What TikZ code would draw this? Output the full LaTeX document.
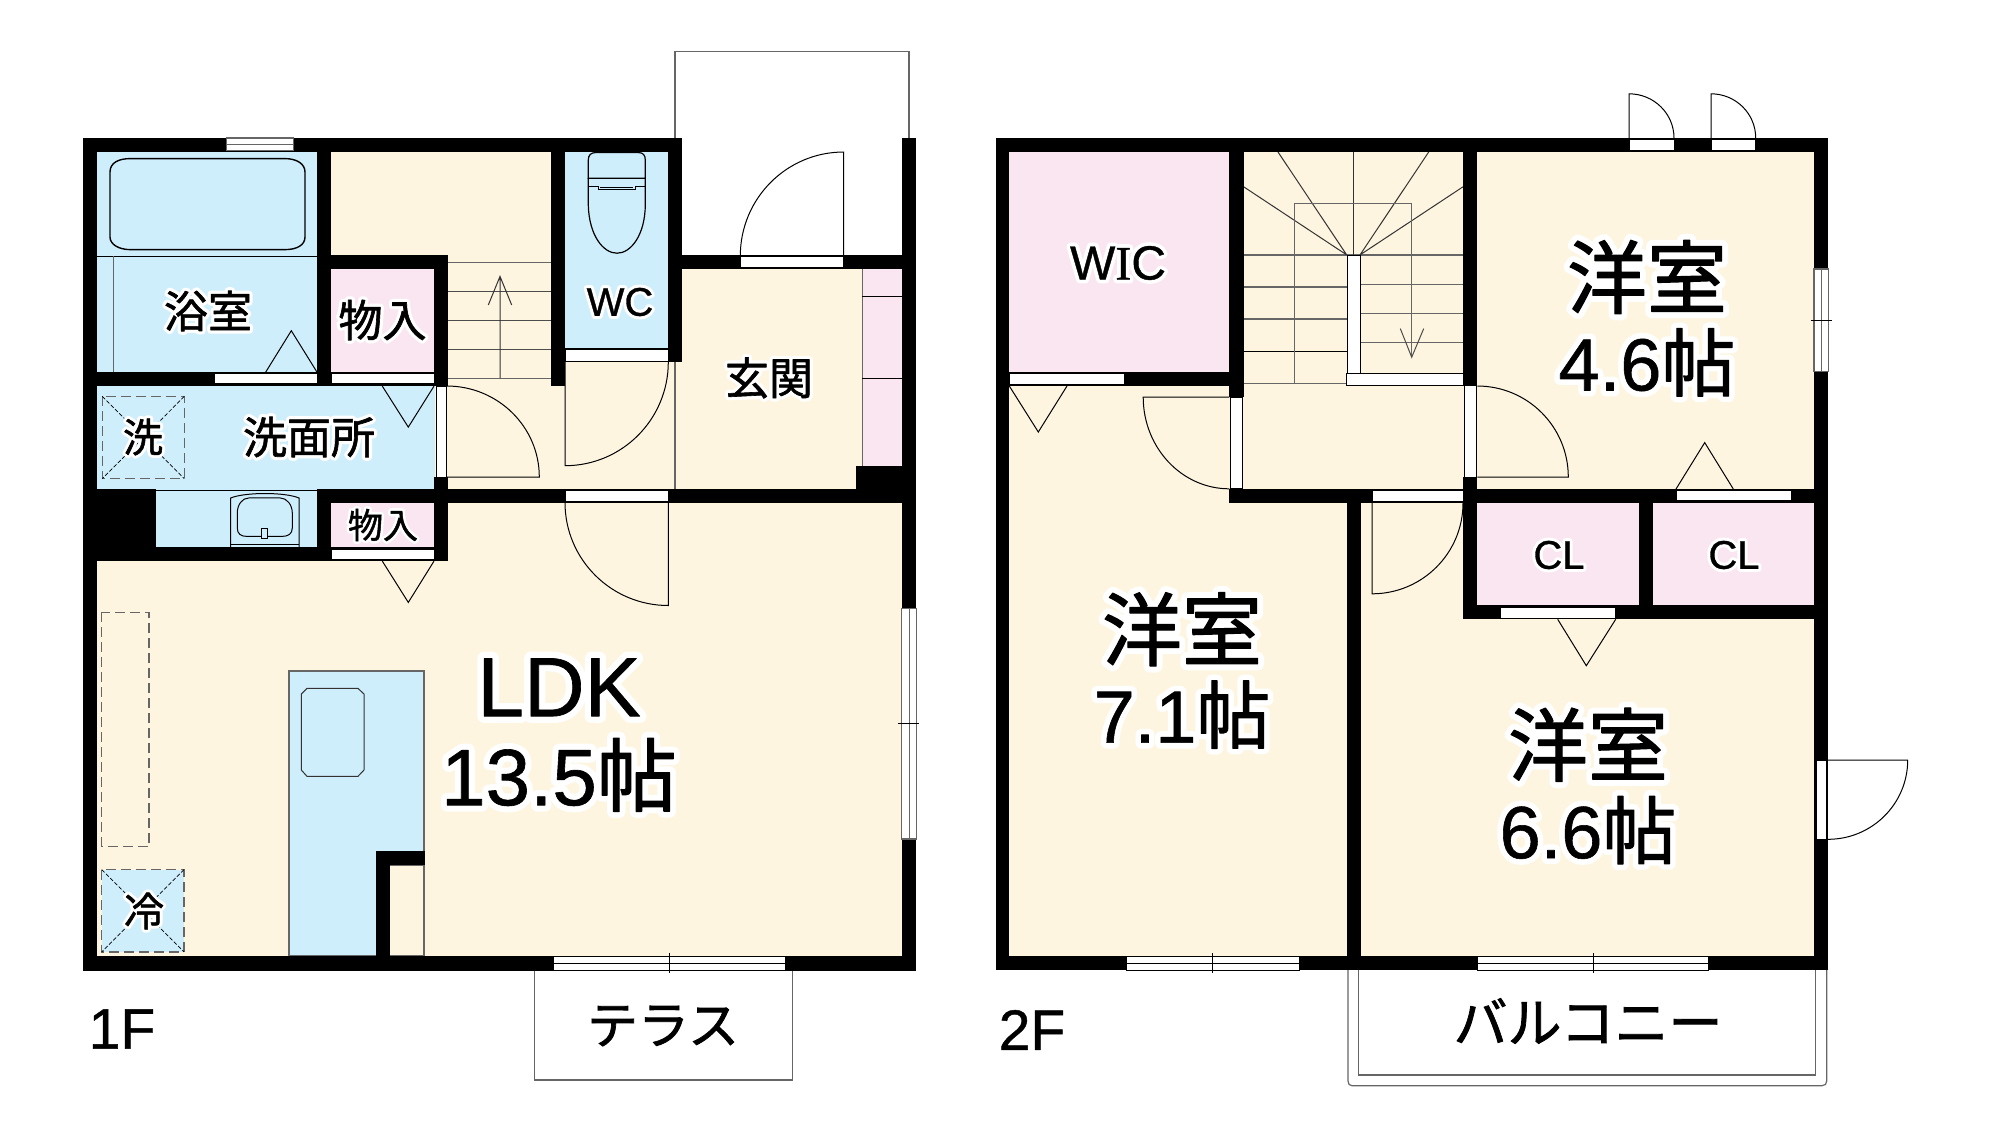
\documentclass[tikz,border=0pt]{standalone}
\usepackage{fontspec}
\usetikzlibrary{calc}
\setmainfont{Liberation Sans}
\newfontfamily\jpn[FakeBold=1.4]{Noto Sans CJK JP}
\newfontfamily\jpnh[FakeBold=16]{Noto Sans CJK JP}
\newfontfamily\latn[FakeBold=0.8]{Liberation Sans}
\newfontfamily\lath[FakeBold=16]{Liberation Sans}
\newfontfamily\serfn[FakeBold=0.8]{Liberation Serif}
\newfontfamily\serfh[FakeBold=16]{Liberation Serif}
\newif\ifhalo
\newcommand\J[1]{{\ifhalo\jpnh\else\jpn\fi #1}}
\newcommand\La[1]{{\ifhalo\lath\else\latn\fi #1}}
\newcommand\Sr[1]{{\ifhalo\serfh\else\serfn\fi #1}}
\newcommand\halo[1]{\leavevmode\special{pdf:code 1 j 1 J}\rlap{\color{white}\halotrue #1}#1}
\newcommand\secondline{\fontsize{37pt}{38.5pt}\selectfont}
\definecolor{cream}{HTML}{FEF5E1}
\definecolor{bluef}{HTML}{CFEEFC}
\definecolor{pinkf}{HTML}{FAE6F0}
\definecolor{lineg}{HTML}{666666}
\tikzset{
  thinl/.style={draw=black,line width=0.5pt},
  grayl/.style={draw=lineg,line width=0.6pt},
  strip/.style={fill=white,draw=black,line width=0.4pt},
  winstrip/.style={fill=white,draw=lineg,line width=0.6pt},
  dashl/.style={draw=lineg,line width=0.7pt,dash pattern=on 5pt off 2.5pt},
  diagl/.style={draw=black,line width=0.35pt,dash pattern=on 2pt off 1pt},
  lab/.style={inner sep=0pt,outer sep=0pt,align=center,text=black},
  lab22/.style={lab,font=\fontsize{22pt}{24pt}\selectfont},
  lab20/.style={lab,font=\fontsize{20pt}{22pt}\selectfont},
  lab17/.style={lab,font=\fontsize{17.5pt}{19pt}\selectfont},
  big/.style={lab,font=\fontsize{40pt}{41.5pt}\selectfont},
  bigger/.style={lab,font=\fontsize{42pt}{44.5pt}\selectfont},
}
\newcommand\Wl[4]{\fill[black] (#1,#2) rectangle (#3,#4);}
\newcommand\Rm[5]{\fill[#1] (#2,#3) rectangle (#4,#5);}
\newcommand\Qd[6]{\draw[thinl] (#1,#2) -- (#3,#4) .. controls ($(#3,#4)+0.5523*(#5,#6)-0.5523*(#1,#2)$) and ($(#5,#6)+0.5523*(#3,#4)-0.5523*(#1,#2)$) .. (#5,#6);}
\begin{document}
\begin{tikzpicture}[x=0.5pt,y=-0.5pt]
\useasboundingbox (0,0) rectangle (1999,1132);
\fill[white] (0,0) rectangle (1999,1132);
% ---------- 1F floors
\Rm{cream}{97.3}{503}{902.3}{956}
\Rm{cream}{331}{152}{668}{489}
\Rm{cream}{668}{268}{903}{489}
\Rm{bluef}{97.3}{152}{317}{373}
\Rm{bluef}{97.3}{386}{434.5}{489}
\Rm{bluef}{156}{489}{317}{547}
\Rm{bluef}{565}{152}{668.3}{348}
\Rm{pinkf}{331.3}{268}{434.3}{373}
\Rm{pinkf}{331.3}{502}{434.3}{548}
\Rm{pinkf}{862.3}{268}{902.3}{466}
% porch and terrace
\draw[grayl] (675,138) -- (675,51.4) -- (909,51.4) -- (909,138);
\draw[grayl] (534.7,970) -- (534.7,1080) -- (792.3,1080) -- (792.3,970);
% kitchen
\draw[grayl,fill=bluef] (289,956) -- (289,670.9) -- (424,670.9) -- (424,956) -- cycle;
\draw[grayl,fill=cream] (389.7,865) rectangle (424,956);
\draw[draw=black!80,line width=0.5pt] (307,688.4) -- (358,688.4) -- (364,694) -- (364,770) -- (358,776.3) -- (307,776.3) -- (301.3,770) -- (301.3,694) -- cycle;
\draw[dashl] (101.7,612.3) rectangle (149,846.5);
\draw[dashl,fill=bluef] (101.7,869.6) rectangle (184,951.9);
\draw[diagl] (101.7,869.6) -- (184,951.9) (184,869.6) -- (101.7,951.9);
% washer
\draw[dashl] (102.3,396.4) rectangle (184.3,478.6);
\draw[diagl] (102.3,396.4) -- (184.3,478.6) (184.3,396.4) -- (102.3,478.6);
% genkan lines
\draw[grayl] (675,362) -- (675,489);
\draw[grayl] (862.3,268) -- (862.3,466);
\draw[thinl] (862.3,296.8) -- (902.3,296.8) (862.3,378.6) -- (902.3,378.6);
% bath
\draw[thinl,line width=0.7pt] (110,172) .. controls (110,162) and (120,158.6) .. (130,158.6) -- (285,158.6) .. controls (297,158.6) and (305,164) .. (305,172) -- (305,237) .. controls (305,245) and (297,249.6) .. (285,249.6) -- (130,249.6) .. controls (120,249.6) and (110,245) .. (110,237) -- cycle;
\draw[thinl] (97.3,256) -- (317,256);
\draw[grayl] (113.7,256) -- (113.7,372);
\draw[thinl] (265.7,372.1) -- (291.3,330.7) -- (317,372.1);
\draw[thinl] (382.3,386.1) -- (408.3,427.1) -- (434,386.1);
\draw[thinl] (382.3,561.1) -- (408.3,602.4) -- (434,561.1);
% basin
\draw[thinl] (156,490) -- (317,490);
\draw[thinl] (230.7,546.8) -- (230.7,498) .. controls (245,492) and (285,492) .. (299,498) -- (299,546.8);
\draw[thinl] (230.7,544.3) -- (299,544.3);
\draw[thinl] (249,497.9) -- (280,497.9) .. controls (287,497.9) and (292.3,505) .. (292.3,513) -- (292.3,528) .. controls (292.3,534) and (288,536.4) .. (282,536.4) -- (247,536.4) .. controls (241,536.4) and (237.3,534) .. (237.3,528) -- (237.3,513) .. controls (237.3,505) and (242,497.9) .. (249,497.9) -- cycle;
\draw[thinl,fill=bluef] (261.7,528.2) rectangle (267.3,538.9);
% toilet
\draw[thinl,line width=0.6pt] (588.3,178.2) -- (588.3,160) .. controls (588.3,155) and (591,152.5) .. (596,152.5) -- (638,152.5) .. controls (643,152.5) and (645.3,155) .. (645.3,160) -- (645.3,178.2) -- cycle;
\draw[thinl,line width=0.6pt] (588.3,178.2) -- (588.3,205) .. controls (589,235) and (603,253.2) .. (617,253.2) .. controls (631,253.2) and (645,235) .. (645.3,205) -- (645.3,178.2);
\draw[thinl] (588.3,186) -- (598.3,186) -- (598.3,189) -- (635,189) -- (635,186) -- (645.3,186);
\draw[thinl] (600,187) -- (633,187);
% stairs 1F
\draw[grayl,draw=black!60] (448.3,262.5) -- (551,262.5);
\draw[thinl,draw=black!70] (448.3,291.8) -- (551,291.8) (448.3,320.4) -- (551,320.4) (448.3,349.6) -- (551,349.6);
\draw[grayl] (448.3,378.2) -- (551,378.2);
\draw[thinl,draw=black!80] (500,378.2) -- (500,276.4) (488.3,305) -- (500,276.4) -- (511.7,305);
% ---------- 1F walls
\Wl{83.3}{137.9}{682.3}{152.1}
\Wl{83.3}{137.9}{97.3}{970.5}
\Wl{902.3}{137.9}{916}{970.5}
\Wl{83.3}{956}{916}{970.5}
\Wl{316.7}{137.9}{331.2}{386.1}
\Wl{83.3}{372.1}{434.3}{386.1}
\Wl{331.2}{255}{448.3}{268.6}
\Wl{434.3}{255}{448.3}{386.1}
\Wl{434.3}{477}{448.3}{561.1}
\Wl{551}{137.9}{565}{386.1}
\Wl{668.3}{137.9}{682.3}{362.1}
\Wl{682.3}{255}{916}{268.6}
\Wl{565}{347.9}{682.3}{362.1}
\Wl{83.3}{488.6}{97.3}{561.1}
\Wl{83.3}{488.6}{156}{561.1}
\Wl{83.3}{546.8}{448.3}{561.1}
\Wl{317}{488.6}{331.3}{561.1}
\Wl{317}{488.6}{916}{502.5}
\Wl{855.7}{465.7}{916}{502.5}
\Wl{375.7}{851.3}{389.7}{970.5}
\Wl{375.7}{851.3}{424.7}{865.1}
% door strips 1F
\draw[strip] (214,373.6) rectangle (317,383.6);
\draw[strip] (331.3,373.6) rectangle (434.3,383.6);
\draw[strip] (436,386.1) rectangle (446.7,477);
\draw[strip] (331.3,548.9) rectangle (434.3,559.6);
\draw[strip] (565,349.6) rectangle (668.3,361.4);
\draw[strip] (565,490.4) rectangle (668.3,501.4);
\draw[strip] (740.3,256.4) rectangle (843.7,267.5);
% windows 1F
\draw[winstrip] (226.7,137.9) rectangle (293.3,150.7);
\draw[grayl] (226.7,144.3) -- (293.3,144.3);
\draw[winstrip] (901.7,608.2) rectangle (916.7,838.9);
\draw[grayl] (909.2,608.2) -- (909.2,838.9);
\draw[thinl] (898,723.9) -- (919,723.9);
\draw[strip] (553.3,956) rectangle (785,970.5);
\draw[thinl] (553.3,963.2) -- (785,963.2);
\draw[thinl] (669.3,952.6) -- (669.3,973.2);
% doors 1F
\Qd{843.7}{256}{843.7}{152}{740.3}{256}
\Qd{565}{362}{565}{465.7}{668.3}{362}
\Qd{446.7}{477}{539.3}{477}{446.7}{386}
\Qd{668.3}{502.5}{668.3}{605.5}{565}{502.5}
% ---------- 2F floors
\Rm{cream}{1009.3}{152}{1814.3}{957}
\Rm{pinkf}{1009.3}{152}{1229.3}{372}
\Rm{pinkf}{1477.3}{503}{1638.7}{605.1}
\Rm{pinkf}{1653}{503}{1814.3}{605.1}
% stairs 2F
\draw[grayl] (1243.7,254.9) -- (1463,254.9);
\draw[grayl] (1243.7,287) -- (1346.7,287) (1243.7,319) -- (1346.7,319);
\draw[thinl] (1243.7,351.4) -- (1346.7,351.4);
\draw[grayl] (1243.7,383.4) -- (1346.7,383.4);
\draw[grayl] (1360,284.2) -- (1463,284.2) (1360,313.5) -- (1463,313.5) (1360,342.4) -- (1463,342.4);
\draw[thinl,draw=black!80] (1346.7,254.9) -- (1243.7,186.8) (1346.7,254.9) -- (1278,152);
\draw[thinl,draw=black!80] (1360,254.9) -- (1463,186.8) (1360,254.9) -- (1428.7,152);
\draw[thinl,draw=black!80] (1353.3,152) -- (1353.3,255);
\draw[grayl] (1294.7,383.4) -- (1294.7,203.3) -- (1411.7,203.3) -- (1411.7,357.2);
\draw[thinl,draw=black!70] (1400.3,328.6) -- (1411.7,357.2) -- (1423.7,328.6);
% triangles 2F
\draw[thinl] (1009.3,386) -- (1038.3,432) -- (1067,386);
\draw[thinl] (1676,489) -- (1704.7,442.6) -- (1733.3,489);
\draw[thinl] (1557.7,619.3) -- (1586.3,665.7) -- (1615.7,619.3);
% balcony
\draw[grayl] (1348,970) -- (1348,1081) .. controls (1348,1084) and (1349.5,1085.7) .. (1352,1085.7) -- (1822,1085.7) .. controls (1825,1085.7) and (1826.7,1084) .. (1826.7,1081) -- (1826.7,970);
\draw[grayl] (1358.3,970) -- (1358.3,1075) -- (1815.7,1075) -- (1815.7,970);
% ---------- 2F walls
\Wl{995.7}{137.9}{1828.3}{152}
\Wl{995.7}{137.9}{1009.3}{970}
\Wl{1814.3}{137.9}{1828.3}{970}
\Wl{995.7}{956.3}{1828.3}{970}
\Wl{995.7}{372}{1243.7}{386}
\Wl{1229.3}{137.9}{1243.7}{397}
\Wl{1229.3}{489}{1828.3}{503}
\Wl{1463}{137.9}{1477.3}{386}
\Wl{1463}{477}{1477.3}{619.3}
\Wl{1346.7}{489}{1360.7}{970}
\Wl{1638.7}{503}{1653}{619.3}
\Wl{1463}{605.1}{1828.3}{619.3}
% door strips 2F
\draw[strip] (1009.3,373.4) rectangle (1124,384.8);
\draw[strip] (1230.7,397.1) rectangle (1242,488.8);
\draw[strip] (1372,490.5) rectangle (1463,501.5);
\draw[strip] (1347.3,255.6) rectangle (1360,373);
\draw[strip] (1346.7,373) rectangle (1463.3,385);
\draw[strip] (1464.7,385.8) rectangle (1476,477);
\draw[strip] (1629,139.2) rectangle (1674,150.2);
\draw[strip] (1711,139.2) rectangle (1755.7,150.2);
\draw[strip] (1676,490.5) rectangle (1791,500.8);
\draw[strip] (1500.3,607.3) rectangle (1615.7,618.3);
\draw[strip] (1816,760) rectangle (1826.7,839.3);
% windows 2F
\draw[winstrip] (1814,269) rectangle (1828.3,371.7);
\draw[grayl] (1821.2,269) -- (1821.2,371.7);
\draw[thinl] (1810.7,320.4) -- (1831.7,320.4);
\draw[strip] (1126.3,956.3) rectangle (1299.3,970);
\draw[thinl] (1126.3,963.2) -- (1299.3,963.2);
\draw[thinl] (1212.7,953.3) -- (1212.7,973.3);
\draw[strip] (1477.3,956.3) rectangle (1708.7,970);
\draw[thinl] (1477.3,963.2) -- (1708.7,963.2);
\draw[thinl] (1593,953.3) -- (1593,973.3);
% doors 2F
\Qd{1229.3}{397}{1143.2}{397}{1229.3}{488.8}
\Qd{1372}{503}{1372}{593.8}{1463}{503}
\Qd{1477.3}{477}{1568.3}{477}{1477.3}{386}
\Qd{1629}{138}{1629}{93.8}{1674}{138}
\Qd{1711}{138}{1711}{93.8}{1755.7}{138}
\Qd{1828}{760}{1907.7}{760}{1828}{839.3}
% ---------- labels
\node[lab22] (bath) at (208,311) {\halo{\J{浴室}}};
\node[lab22] (store1) at (382.5,320) {\halo{\J{物入}}};
\node[lab20] (washer) at (143,437) {\halo{\J{洗}}};
\node[lab22] (wash) at (309,437) {\halo{\J{洗面所}}};
\node[lab17] (store2) at (383,525) {\halo{\J{物入}}};
\node[lab20] (wc) at (620,302) {\halo{\La{WC}}};
\node[lab22] (genkan) at (769,378) {\halo{\J{玄関}}};
\node[lab20] (fridge) at (144,911) {\halo{\J{冷}}};
\node[bigger] (ldk) at (559,735) {\halo{\La{LDK}}\\{\fontsize{40pt}{44.5pt}\selectfont\halo{\La{13.5}\J{帖}}}};
\node[lab,font=\fontsize{28.5pt}{31pt}\selectfont] (f1) at (122,1029) {\La{1F}};
\node[lab,font=\fontsize{28.5pt}{31pt}\selectfont] (f2) at (1032,1030) {\La{2F}};
\node[lab,font=\fontsize{25.5pt}{27pt}\selectfont] (terr) at (663,1026) {\J{テラス}};
\node[lab,font=\fontsize{27pt}{28pt}\selectfont] (balc) at (1588,1021) {\J{バルコニー}};
\node[lab,font=\fontsize{24pt}{26pt}\selectfont] (wic) at (1118,263) {\halo{\La{W}\Sr{I}\La{C}}};
\node[big] (r46) at (1647,318.3) {\halo{\J{洋室}}\\{\secondline\halo{\La{4.6}\J{帖}}}};
\node[big] (r71) at (1182,670.5) {\halo{\J{洋室}}\\{\secondline\halo{\La{7.1}\J{帖}}}};
\node[big] (r66) at (1588,786) {\halo{\J{洋室}}\\{\secondline\halo{\La{6.6}\J{帖}}}};
\node[lab20] (cl1) at (1559,555) {\halo{\La{CL}}};
\node[lab20] (cl2) at (1734,555) {\halo{\La{CL}}};
\end{tikzpicture}
\end{document}
